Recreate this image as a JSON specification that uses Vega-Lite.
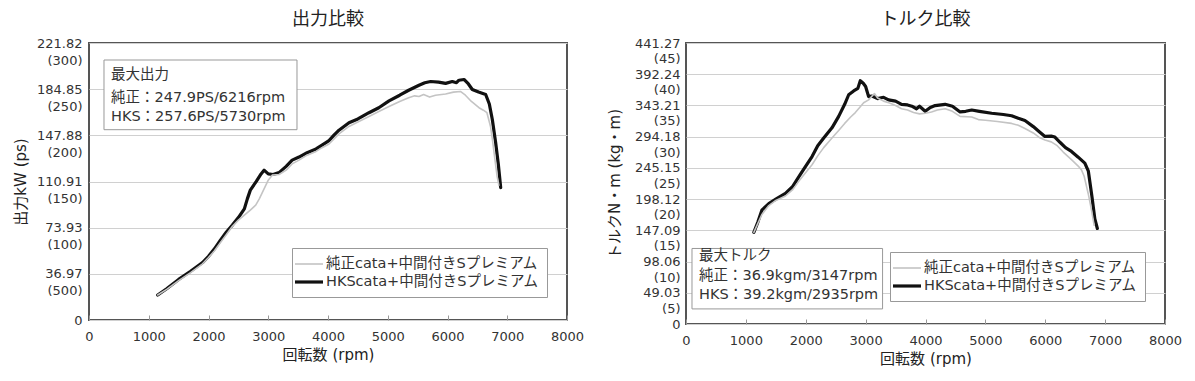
{
  "$schema": "https://vega.github.io/schema/vega-lite/v6.json",
  "padding": {"left": 12, "top": 10, "right": 0, "bottom": 0},
  "background": "white",
  "bounds": "flush",
  "spacing": 119,
  "config": {
    "font": "DejaVu Sans, Noto Sans CJK JP",
    "view": {"stroke": "#555", "strokeWidth": 2},
    "axis": {"labelFont": "DejaVu Sans, Noto Sans CJK JP", "titleFont": "DejaVu Sans, Noto Sans CJK JP", "labelColor": "#333", "titleColor": "#222", "labelFontSize": 13, "titleFontSize": 15, "titleFontWeight": "normal", "domain": false, "gridColor": "#d0d0d0", "gridWidth": 1, "labelOverlap": false},
    "title": {"font": "DejaVu Sans, Noto Sans CJK JP", "fontSize": 18, "fontWeight": "normal", "color": "#222"},
    "legend": {"labelFont": "DejaVu Sans, Noto Sans CJK JP", "labelFontSize": 14.5, "labelColor": "#333", "labelLimit": 0}
  },
  "resolve": {"scale": {"color": "independent", "strokeWidth": "independent", "x": "independent", "y": "independent"}, "legend": {"color": "independent", "strokeWidth": "independent"}},
  "datasets": {
    "power": [
      {"series": "HKScata+中間付きSプレミアム", "rpm": 1150, "v": 20},
      {"series": "HKScata+中間付きSプレミアム", "rpm": 1300, "v": 25},
      {"series": "HKScata+中間付きSプレミアム", "rpm": 1500, "v": 32.5},
      {"series": "HKScata+中間付きSプレミアム", "rpm": 1700, "v": 39},
      {"series": "HKScata+中間付きSプレミアム", "rpm": 1900, "v": 46},
      {"series": "HKScata+中間付きSプレミアム", "rpm": 2000, "v": 51},
      {"series": "HKScata+中間付きSプレミアム", "rpm": 2100, "v": 57},
      {"series": "HKScata+中間付きSプレミアム", "rpm": 2200, "v": 64},
      {"series": "HKScata+中間付きSプレミアム", "rpm": 2300, "v": 70.5},
      {"series": "HKScata+中間付きSプレミアム", "rpm": 2400, "v": 76},
      {"series": "HKScata+中間付きSプレミアム", "rpm": 2500, "v": 82},
      {"series": "HKScata+中間付きSプレミアム", "rpm": 2600, "v": 89},
      {"series": "HKScata+中間付きSプレミアム", "rpm": 2650, "v": 97},
      {"series": "HKScata+中間付きSプレミアム", "rpm": 2700, "v": 104},
      {"series": "HKScata+中間付きSプレミアム", "rpm": 2800, "v": 111},
      {"series": "HKScata+中間付きSプレミアム", "rpm": 2880, "v": 117},
      {"series": "HKScata+中間付きSプレミアム", "rpm": 2930, "v": 120},
      {"series": "HKScata+中間付きSプレミアム", "rpm": 3000, "v": 117},
      {"series": "HKScata+中間付きSプレミアム", "rpm": 3080, "v": 116.5},
      {"series": "HKScata+中間付きSプレミアム", "rpm": 3180, "v": 118},
      {"series": "HKScata+中間付きSプレミアム", "rpm": 3300, "v": 123},
      {"series": "HKScata+中間付きSプレミアム", "rpm": 3400, "v": 128},
      {"series": "HKScata+中間付きSプレミアム", "rpm": 3515, "v": 130.5},
      {"series": "HKScata+中間付きSプレミアム", "rpm": 3650, "v": 134},
      {"series": "HKScata+中間付きSプレミアム", "rpm": 3800, "v": 137},
      {"series": "HKScata+中間付きSプレミアム", "rpm": 3900, "v": 140},
      {"series": "HKScata+中間付きSプレミアム", "rpm": 4017, "v": 143.6},
      {"series": "HKScata+中間付きSプレミアム", "rpm": 4100, "v": 148},
      {"series": "HKScata+中間付きSプレミアム", "rpm": 4184, "v": 152},
      {"series": "HKScata+中間付きSプレミアム", "rpm": 4351, "v": 158},
      {"series": "HKScata+中間付きSプレミアム", "rpm": 4500, "v": 161},
      {"series": "HKScata+中間付きSプレミアム", "rpm": 4686, "v": 166},
      {"series": "HKScata+中間付きSプレミアム", "rpm": 4850, "v": 170},
      {"series": "HKScata+中間付きSプレミアム", "rpm": 5021, "v": 175.5},
      {"series": "HKScata+中間付きSプレミアム", "rpm": 5200, "v": 180},
      {"series": "HKScata+中間付きSプレミアム", "rpm": 5350, "v": 184},
      {"series": "HKScata+中間付きSプレミアム", "rpm": 5523, "v": 188},
      {"series": "HKScata+中間付きSプレミアム", "rpm": 5620, "v": 190},
      {"series": "HKScata+中間付きSプレミアム", "rpm": 5718, "v": 191},
      {"series": "HKScata+中間付きSプレミアム", "rpm": 5850, "v": 190.5},
      {"series": "HKScata+中間付きSプレミアム", "rpm": 5968, "v": 189.5},
      {"series": "HKScata+中間付きSプレミアム", "rpm": 6080, "v": 191},
      {"series": "HKScata+中間付きSプレミアム", "rpm": 6150, "v": 190},
      {"series": "HKScata+中間付きSプレミアム", "rpm": 6192, "v": 192},
      {"series": "HKScata+中間付きSプレミアム", "rpm": 6276, "v": 192.6},
      {"series": "HKScata+中間付きSプレミアム", "rpm": 6350, "v": 189},
      {"series": "HKScata+中間付きSプレミアム", "rpm": 6415, "v": 184.6},
      {"series": "HKScata+中間付きSプレミアム", "rpm": 6520, "v": 182.5},
      {"series": "HKScata+中間付きSプレミアム", "rpm": 6639, "v": 180.6},
      {"series": "HKScata+中間付きSプレミアム", "rpm": 6700, "v": 173},
      {"series": "HKScata+中間付きSプレミアム", "rpm": 6750, "v": 160.6},
      {"series": "HKScata+中間付きSプレミアム", "rpm": 6806, "v": 142},
      {"series": "HKScata+中間付きSプレミアム", "rpm": 6850, "v": 125},
      {"series": "HKScata+中間付きSプレミアム", "rpm": 6890, "v": 106},
      {"series": "純正cata+中間付きSプレミアム", "rpm": 1150, "v": 20},
      {"series": "純正cata+中間付きSプレミアム", "rpm": 1300, "v": 24.5},
      {"series": "純正cata+中間付きSプレミアム", "rpm": 1500, "v": 31.5},
      {"series": "純正cata+中間付きSプレミアム", "rpm": 1700, "v": 38},
      {"series": "純正cata+中間付きSプレミアム", "rpm": 1900, "v": 45},
      {"series": "純正cata+中間付きSプレミアム", "rpm": 2000, "v": 50},
      {"series": "純正cata+中間付きSプレミアム", "rpm": 2100, "v": 55.5},
      {"series": "純正cata+中間付きSプレミアム", "rpm": 2200, "v": 62},
      {"series": "純正cata+中間付きSプレミアム", "rpm": 2300, "v": 68.5},
      {"series": "純正cata+中間付きSプレミアム", "rpm": 2400, "v": 75},
      {"series": "純正cata+中間付きSプレミアム", "rpm": 2500, "v": 80},
      {"series": "純正cata+中間付きSプレミアム", "rpm": 2600, "v": 84},
      {"series": "純正cata+中間付きSプレミアム", "rpm": 2700, "v": 88},
      {"series": "純正cata+中間付きSプレミアム", "rpm": 2790, "v": 92},
      {"series": "純正cata+中間付きSプレミアム", "rpm": 2850, "v": 97},
      {"series": "純正cata+中間付きSプレミアム", "rpm": 2900, "v": 102},
      {"series": "純正cata+中間付きSプレミアム", "rpm": 2960, "v": 108},
      {"series": "純正cata+中間付きSプレミアム", "rpm": 3000, "v": 112},
      {"series": "純正cata+中間付きSプレミアム", "rpm": 3066, "v": 116},
      {"series": "純正cata+中間付きSプレミアム", "rpm": 3180, "v": 116.5},
      {"series": "純正cata+中間付きSプレミアム", "rpm": 3300, "v": 120},
      {"series": "純正cata+中間付きSプレミアム", "rpm": 3400, "v": 125},
      {"series": "純正cata+中間付きSプレミアム", "rpm": 3515, "v": 128},
      {"series": "純正cata+中間付きSプレミアム", "rpm": 3650, "v": 132},
      {"series": "純正cata+中間付きSプレミアム", "rpm": 3800, "v": 135},
      {"series": "純正cata+中間付きSプレミアム", "rpm": 3900, "v": 138},
      {"series": "純正cata+中間付きSプレミアム", "rpm": 4017, "v": 141},
      {"series": "純正cata+中間付きSプレミアム", "rpm": 4184, "v": 149},
      {"series": "純正cata+中間付きSプレミアム", "rpm": 4351, "v": 155},
      {"series": "純正cata+中間付きSプレミアム", "rpm": 4500, "v": 158.5},
      {"series": "純正cata+中間付きSプレミアム", "rpm": 4686, "v": 163},
      {"series": "純正cata+中間付きSプレミアム", "rpm": 4850, "v": 167},
      {"series": "純正cata+中間付きSプレミアム", "rpm": 5021, "v": 171},
      {"series": "純正cata+中間付きSプレミアム", "rpm": 5200, "v": 175},
      {"series": "純正cata+中間付きSプレミアム", "rpm": 5350, "v": 178},
      {"series": "純正cata+中間付きSプレミアム", "rpm": 5450, "v": 179.5},
      {"series": "純正cata+中間付きSプレミアム", "rpm": 5523, "v": 179},
      {"series": "純正cata+中間付きSプレミアム", "rpm": 5600, "v": 180.5},
      {"series": "純正cata+中間付きSプレミアム", "rpm": 5700, "v": 178.5},
      {"series": "純正cata+中間付きSプレミアム", "rpm": 5800, "v": 180},
      {"series": "純正cata+中間付きSプレミアム", "rpm": 5968, "v": 181},
      {"series": "純正cata+中間付きSプレミアム", "rpm": 6100, "v": 182.5},
      {"series": "純正cata+中間付きSプレミアム", "rpm": 6216, "v": 183},
      {"series": "純正cata+中間付きSプレミアム", "rpm": 6300, "v": 180},
      {"series": "純正cata+中間付きSプレミアム", "rpm": 6400, "v": 175},
      {"series": "純正cata+中間付きSプレミアム", "rpm": 6527, "v": 170},
      {"series": "純正cata+中間付きSプレミアム", "rpm": 6600, "v": 168},
      {"series": "純正cata+中間付きSプレミアム", "rpm": 6660, "v": 166},
      {"series": "純正cata+中間付きSプレミアム", "rpm": 6720, "v": 155},
      {"series": "純正cata+中間付きSプレミアム", "rpm": 6750, "v": 145},
      {"series": "純正cata+中間付きSプレミアム", "rpm": 6790, "v": 130},
      {"series": "純正cata+中間付きSプレミアム", "rpm": 6830, "v": 115},
      {"series": "純正cata+中間付きSプレミアム", "rpm": 6860, "v": 108}
    ],
    "torque": [
      {"series": "HKScata+中間付きSプレミアム", "rpm": 1133, "v": 144},
      {"series": "HKScata+中間付きSプレミアム", "rpm": 1200, "v": 160},
      {"series": "HKScata+中間付きSプレミアム", "rpm": 1267, "v": 178.7},
      {"series": "HKScata+中間付きSプレミアム", "rpm": 1383, "v": 189},
      {"series": "HKScata+中間付きSプレミアム", "rpm": 1500, "v": 196},
      {"series": "HKScata+中間付きSプレミアム", "rpm": 1661, "v": 205},
      {"series": "HKScata+中間付きSプレミアム", "rpm": 1783, "v": 216},
      {"series": "HKScata+中間付きSプレミアム", "rpm": 1883, "v": 231},
      {"series": "HKScata+中間付きSプレミアム", "rpm": 2000, "v": 248},
      {"series": "HKScata+中間付きSプレミアム", "rpm": 2105, "v": 263},
      {"series": "HKScata+中間付きSプレミアム", "rpm": 2200, "v": 280},
      {"series": "HKScata+中間付きSプレミアム", "rpm": 2300, "v": 292},
      {"series": "HKScata+中間付きSプレミアム", "rpm": 2438, "v": 308},
      {"series": "HKScata+中間付きSプレミアム", "rpm": 2550, "v": 326},
      {"series": "HKScata+中間付きSプレミアム", "rpm": 2650, "v": 345},
      {"series": "HKScata+中間付きSプレミアム", "rpm": 2717, "v": 360},
      {"series": "HKScata+中間付きSプレミアム", "rpm": 2800, "v": 366},
      {"series": "HKScata+中間付きSプレミアム", "rpm": 2870, "v": 370},
      {"series": "HKScata+中間付きSプレミアム", "rpm": 2911, "v": 382},
      {"series": "HKScata+中間付きSプレミアム", "rpm": 2960, "v": 378},
      {"series": "HKScata+中間付きSプレミアム", "rpm": 3000, "v": 373},
      {"series": "HKScata+中間付きSプレミアム", "rpm": 3050, "v": 357},
      {"series": "HKScata+中間付きSプレミアム", "rpm": 3105, "v": 358},
      {"series": "HKScata+中間付きSプレミアム", "rpm": 3200, "v": 354},
      {"series": "HKScata+中間付きSプレミアム", "rpm": 3300, "v": 356},
      {"series": "HKScata+中間付きSプレミアム", "rpm": 3383, "v": 352},
      {"series": "HKScata+中間付きSプレミアム", "rpm": 3500, "v": 350},
      {"series": "HKScata+中間付きSプレミアム", "rpm": 3600, "v": 345},
      {"series": "HKScata+中間付きSプレミアム", "rpm": 3700, "v": 344},
      {"series": "HKScata+中間付きSプレミアム", "rpm": 3772, "v": 342},
      {"series": "HKScata+中間付きSプレミアム", "rpm": 3850, "v": 338},
      {"series": "HKScata+中間付きSプレミアム", "rpm": 3900, "v": 342},
      {"series": "HKScata+中間付きSプレミアム", "rpm": 3995, "v": 334},
      {"series": "HKScata+中間付きSプレミアム", "rpm": 4080, "v": 340},
      {"series": "HKScata+中間付きSプレミアム", "rpm": 4161, "v": 343},
      {"series": "HKScata+中間付きSプレミアム", "rpm": 4328, "v": 345},
      {"series": "HKScata+中間付きSプレミアム", "rpm": 4450, "v": 342},
      {"series": "HKScata+中間付きSプレミアム", "rpm": 4578, "v": 333},
      {"series": "HKScata+中間付きSプレミアム", "rpm": 4672, "v": 334},
      {"series": "HKScata+中間付きSプレミアム", "rpm": 4772, "v": 336},
      {"series": "HKScata+中間付きSプレミアム", "rpm": 4900, "v": 334},
      {"series": "HKScata+中間付きSプレミアム", "rpm": 5105, "v": 331},
      {"series": "HKScata+中間付きSプレミアム", "rpm": 5300, "v": 329},
      {"series": "HKScata+中間付きSプレミアム", "rpm": 5438, "v": 327},
      {"series": "HKScata+中間付きSプレミアム", "rpm": 5550, "v": 323},
      {"series": "HKScata+中間付きSプレミアム", "rpm": 5661, "v": 319.5},
      {"series": "HKScata+中間付きSプレミアム", "rpm": 5800, "v": 310},
      {"series": "HKScata+中間付きSプレミアム", "rpm": 5900, "v": 302},
      {"series": "HKScata+中間付きSプレミアム", "rpm": 5995, "v": 294.6},
      {"series": "HKScata+中間付きSプレミアム", "rpm": 6100, "v": 295},
      {"series": "HKScata+中間付きSプレミアム", "rpm": 6161, "v": 293.6},
      {"series": "HKScata+中間付きSプレミアム", "rpm": 6250, "v": 285},
      {"series": "HKScata+中間付きSプレミアム", "rpm": 6338, "v": 277},
      {"series": "HKScata+中間付きSプレミアム", "rpm": 6438, "v": 271},
      {"series": "HKScata+中間付きSプレミアム", "rpm": 6550, "v": 262},
      {"series": "HKScata+中間付きSプレミアム", "rpm": 6661, "v": 252.6},
      {"series": "HKScata+中間付きSプレミアム", "rpm": 6720, "v": 240},
      {"series": "HKScata+中間付きSプレミアム", "rpm": 6780, "v": 200},
      {"series": "HKScata+中間付きSプレミアム", "rpm": 6828, "v": 165},
      {"series": "HKScata+中間付きSプレミアム", "rpm": 6870, "v": 150},
      {"series": "純正cata+中間付きSプレミアム", "rpm": 1133, "v": 144},
      {"series": "純正cata+中間付きSプレミアム", "rpm": 1200, "v": 158},
      {"series": "純正cata+中間付きSプレミアム", "rpm": 1267, "v": 172},
      {"series": "純正cata+中間付きSプレミアム", "rpm": 1383, "v": 186},
      {"series": "純正cata+中間付きSプレミアム", "rpm": 1500, "v": 194},
      {"series": "純正cata+中間付きSプレミアム", "rpm": 1661, "v": 201},
      {"series": "純正cata+中間付きSプレミアム", "rpm": 1783, "v": 211},
      {"series": "純正cata+中間付きSプレミアム", "rpm": 1883, "v": 224},
      {"series": "純正cata+中間付きSプレミアム", "rpm": 2000, "v": 238},
      {"series": "純正cata+中間付きSプレミアム", "rpm": 2105, "v": 250},
      {"series": "純正cata+中間付きSプレミアム", "rpm": 2200, "v": 264},
      {"series": "純正cata+中間付きSプレミアム", "rpm": 2300, "v": 277},
      {"series": "純正cata+中間付きSプレミアム", "rpm": 2438, "v": 292},
      {"series": "純正cata+中間付きSプレミアム", "rpm": 2550, "v": 304},
      {"series": "純正cata+中間付きSプレミアム", "rpm": 2650, "v": 315},
      {"series": "純正cata+中間付きSプレミアム", "rpm": 2750, "v": 325},
      {"series": "純正cata+中間付きSプレミアム", "rpm": 2828, "v": 332},
      {"series": "純正cata+中間付きSプレミアム", "rpm": 2900, "v": 340},
      {"series": "純正cata+中間付きSプレミアム", "rpm": 2967, "v": 347.5},
      {"series": "純正cata+中間付きSプレミアム", "rpm": 3050, "v": 352},
      {"series": "純正cata+中間付きSプレミアム", "rpm": 3147, "v": 362},
      {"series": "純正cata+中間付きSプレミアム", "rpm": 3200, "v": 355},
      {"series": "純正cata+中間付きSプレミアム", "rpm": 3300, "v": 350},
      {"series": "純正cata+中間付きSプレミアム", "rpm": 3400, "v": 347},
      {"series": "純正cata+中間付きSプレミアム", "rpm": 3500, "v": 343},
      {"series": "純正cata+中間付きSプレミアム", "rpm": 3600, "v": 338},
      {"series": "純正cata+中間付きSプレミアム", "rpm": 3700, "v": 336},
      {"series": "純正cata+中間付きSプレミアム", "rpm": 3800, "v": 332},
      {"series": "純正cata+中間付きSプレミアム", "rpm": 3900, "v": 330},
      {"series": "純正cata+中間付きSプレミアム", "rpm": 4000, "v": 331},
      {"series": "純正cata+中間付きSプレミアム", "rpm": 4100, "v": 333},
      {"series": "純正cata+中間付きSプレミアム", "rpm": 4200, "v": 336},
      {"series": "純正cata+中間付きSプレミアム", "rpm": 4328, "v": 338},
      {"series": "純正cata+中間付きSプレミアム", "rpm": 4450, "v": 334},
      {"series": "純正cata+中間付きSプレミアム", "rpm": 4578, "v": 326},
      {"series": "純正cata+中間付きSプレミアム", "rpm": 4772, "v": 325},
      {"series": "純正cata+中間付きSプレミアム", "rpm": 4883, "v": 321},
      {"series": "純正cata+中間付きSプレミアム", "rpm": 5000, "v": 320},
      {"series": "純正cata+中間付きSプレミアム", "rpm": 5200, "v": 318},
      {"series": "純正cata+中間付きSプレミアム", "rpm": 5438, "v": 315},
      {"series": "純正cata+中間付きSプレミアム", "rpm": 5550, "v": 312},
      {"series": "純正cata+中間付きSプレミアム", "rpm": 5661, "v": 307},
      {"series": "純正cata+中間付きSプレミアム", "rpm": 5800, "v": 300},
      {"series": "純正cata+中間付きSプレミアム", "rpm": 5900, "v": 293},
      {"series": "純正cata+中間付きSプレミアム", "rpm": 5995, "v": 289},
      {"series": "純正cata+中間付きSプレミアム", "rpm": 6100, "v": 286},
      {"series": "純正cata+中間付きSプレミアム", "rpm": 6200, "v": 280},
      {"series": "純正cata+中間付きSプレミアム", "rpm": 6300, "v": 270},
      {"series": "純正cata+中間付きSプレミアム", "rpm": 6438, "v": 258},
      {"series": "純正cata+中間付きSプレミアム", "rpm": 6550, "v": 248},
      {"series": "純正cata+中間付きSプレミアム", "rpm": 6605, "v": 242},
      {"series": "純正cata+中間付きSプレミアム", "rpm": 6650, "v": 232},
      {"series": "純正cata+中間付きSプレミアム", "rpm": 6717, "v": 205},
      {"series": "純正cata+中間付きSプレミアム", "rpm": 6770, "v": 180},
      {"series": "純正cata+中間付きSプレミアム", "rpm": 6817, "v": 155}
    ]
  },
  "hconcat": [
    {
      "width": 478,
      "height": 277,
      "title": {"text": "出力比較", "offset": 8},
      "layer": [
        {
          "data": {"name": "power"},
          "mark": {"type": "line", "interpolate": "linear", "strokeJoin": "round", "strokeCap": "round"},
          "encoding": {
            "x": {"field": "rpm", "type": "quantitative", "scale": {"domain": [0, 8000], "nice": false}, "axis": {"title": "回転数 (rpm)", "format": "d", "values": [0, 1000, 2000, 3000, 4000, 5000, 6000, 7000, 8000], "tickCount": 12, "grid": false, "ticks": true, "tickSize": -5, "tickColor": "#999", "labelPadding": 15, "labelFlush": false, "titlePadding": 4}},
            "y": {"field": "v", "type": "quantitative", "scale": {"domain": [0, 221.82], "nice": false, "zero": true}, "axis": {"title": "出力kW (ps)", "values": [0, 36.97, 73.93, 110.91, 147.88, 184.85, 221.82], "tickCount": 12, "ticks": false, "labelOverlap": false, "labelPadding": 7, "labelLineHeight": 17, "labelFlush": false, "titlePadding": 8, "labelExpr": "datum.value == 0 ? '0' : datum.value < 40 ? ['36.97', '(500)'] : datum.value < 80 ? ['73.93', '(100)'] : datum.value < 120 ? ['110.91', '(150)'] : datum.value < 160 ? ['147.88', '(200)'] : datum.value < 200 ? ['184.85', '(250)'] : ['221.82', '(300)']"}},
            "color": {"field": "series", "type": "nominal", "scale": {"domain": ["純正cata+中間付きSプレミアム", "HKScata+中間付きSプレミアム"], "range": ["#c4c4c4", "#111111"]}, "legend": {"title": null, "orient": "none", "legendX": 203, "legendY": 205, "direction": "vertical", "strokeColor": "#999", "fillColor": "#ffffff", "padding": 8, "symbolType": "M-2,0H2", "symbolSize": 196, "rowPadding": 2, "labelOffset": 8, "labelLimit": 0}},
            "strokeWidth": {"field": "series", "type": "nominal", "scale": {"domain": ["純正cata+中間付きSプレミアム", "HKScata+中間付きSプレミアム"], "range": [1.6, 3.2]}, "legend": {"title": null, "orient": "none", "legendX": 203, "legendY": 205, "direction": "vertical", "strokeColor": "#999", "fillColor": "#ffffff", "padding": 8, "symbolType": "M-2,0H2", "symbolSize": 196, "rowPadding": 2, "labelOffset": 8, "labelLimit": 0}}
          }
        },
        {
          "data": {"values": [{"x1": 251, "x2": 3481, "y1": 152.4, "y2": 208.2}]},
          "mark": {"type": "rect", "fill": "white", "stroke": "#999", "strokeWidth": 1},
          "encoding": {
            "x": {"field": "x1", "type": "quantitative"},
            "x2": {"field": "x2"},
            "y": {"field": "y1", "type": "quantitative"},
            "y2": {"field": "y2"}
          }
        },
        {
          "data": {"values": [
            {"rpm": 368, "v": 196.3, "label": "最大出力"},
            {"rpm": 368, "v": 178, "label": "純正：247.9PS/6216rpm"},
            {"rpm": 368, "v": 162.8, "label": "HKS：257.6PS/5730rpm"}
          ]},
          "mark": {"type": "text", "align": "left", "baseline": "middle", "fontSize": 14.5, "color": "#333"},
          "encoding": {
            "x": {"field": "rpm", "type": "quantitative"},
            "y": {"field": "v", "type": "quantitative"},
            "text": {"field": "label"}
          }
        }
      ]
    },
    {
      "width": 479,
      "height": 281,
      "title": {"text": "トルク比較", "offset": 8},
      "layer": [
        {
          "data": {"name": "torque"},
          "mark": {"type": "line", "interpolate": "linear", "strokeJoin": "round", "strokeCap": "round"},
          "encoding": {
            "x": {"field": "rpm", "type": "quantitative", "scale": {"domain": [0, 8000], "nice": false}, "axis": {"title": "回転数 (rpm)", "format": "d", "values": [0, 1000, 2000, 3000, 4000, 5000, 6000, 7000, 8000], "tickCount": 12, "grid": false, "ticks": true, "tickSize": -5, "tickColor": "#999", "labelPadding": 15, "labelFlush": false, "titlePadding": 4}},
            "y": {"field": "v", "type": "quantitative", "scale": {"domain": [0, 441.27], "nice": false, "zero": true}, "axis": {"title": "トルクN・m (kg・m)", "values": [0, 49.03, 98.06, 147.09, 196.12, 245.15, 294.18, 343.21, 392.24, 441.27], "tickCount": 12, "ticks": false, "labelOverlap": false, "labelFontSize": 13, "labelPadding": 6, "labelLineHeight": 15.5, "labelFlush": false, "titlePadding": 12, "labelExpr": "datum.value == 0 ? '0' : datum.value < 60 ? ['49.03', '(5)'] : datum.value < 110 ? ['98.06', '(10)'] : datum.value < 160 ? ['147.09', '(15)'] : datum.value < 210 ? ['198.12', '(20)'] : datum.value < 260 ? ['245.15', '(25)'] : datum.value < 310 ? ['294.18', '(30)'] : datum.value < 360 ? ['343.21', '(35)'] : datum.value < 410 ? ['392.24', '(40)'] : ['441.27', '(45)']"}},
            "color": {"field": "series", "type": "nominal", "scale": {"domain": ["純正cata+中間付きSプレミアム", "HKScata+中間付きSプレミアム"], "range": ["#c4c4c4", "#111111"]}, "legend": {"title": null, "orient": "none", "legendX": 204, "legendY": 209, "direction": "vertical", "strokeColor": "#999", "fillColor": "#ffffff", "padding": 8, "symbolType": "M-2,0H2", "symbolSize": 196, "rowPadding": 2, "labelOffset": 8, "labelLimit": 0}},
            "strokeWidth": {"field": "series", "type": "nominal", "scale": {"domain": ["純正cata+中間付きSプレミアム", "HKScata+中間付きSプレミアム"], "range": [1.6, 3.2]}, "legend": {"title": null, "orient": "none", "legendX": 204, "legendY": 209, "direction": "vertical", "strokeColor": "#999", "fillColor": "#ffffff", "padding": 8, "symbolType": "M-2,0H2", "symbolSize": 196, "rowPadding": 2, "labelOffset": 8, "labelLimit": 0}}
          }
        },
        {
          "data": {"values": [{"x1": 100, "x2": 3283, "y1": 23.7, "y2": 118.6}]},
          "mark": {"type": "rect", "fill": "white", "stroke": "#999", "strokeWidth": 1},
          "encoding": {
            "x": {"field": "x1", "type": "quantitative"},
            "x2": {"field": "x2"},
            "y": {"field": "y1", "type": "quantitative"},
            "y2": {"field": "y2"}
          }
        },
        {
          "data": {"values": [
            {"rpm": 217, "v": 106, "label": "最大トルク"},
            {"rpm": 217, "v": 74.8, "label": "純正：36.9kgm/3147rpm"},
            {"rpm": 217, "v": 45.4, "label": "HKS：39.2kgm/2935rpm"}
          ]},
          "mark": {"type": "text", "align": "left", "baseline": "middle", "fontSize": 14.5, "color": "#333"},
          "encoding": {
            "x": {"field": "rpm", "type": "quantitative"},
            "y": {"field": "v", "type": "quantitative"},
            "text": {"field": "label"}
          }
        }
      ]
    }
  ]
}
